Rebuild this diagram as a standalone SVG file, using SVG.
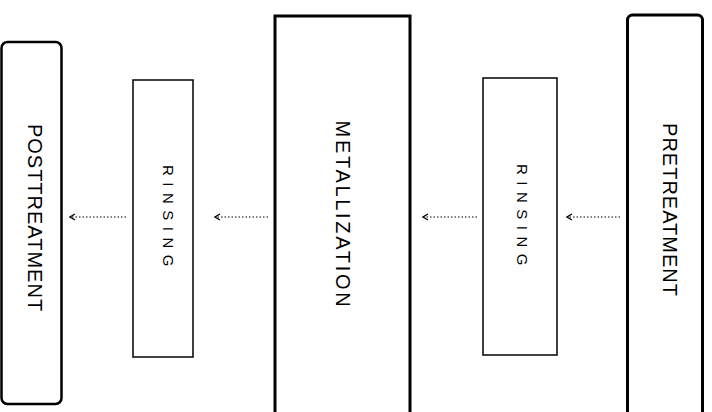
<svg xmlns="http://www.w3.org/2000/svg" width="712" height="412" viewBox="0 0 712 412">
<style>
.box{fill:#fff;stroke:#000}
.lbl{font-family:"Liberation Sans",Arial,sans-serif;fill:#000;text-anchor:middle}
.big{font-size:20px}
.small{font-size:15px;letter-spacing:6.5px}
.conn line{stroke:#000;stroke-width:1;stroke-dasharray:1.5 2}
</style>
<defs>
<marker id="ah" markerWidth="8" markerHeight="8" refX="7" refY="4" orient="auto" markerUnits="userSpaceOnUse">
<path d="M2,1 L7,4 L2,7" fill="none" stroke="#000" stroke-width="1.3"/>
</marker>
</defs>
<rect width="712" height="412" fill="#fff"/>
<g id="posttreatment">
<rect class="box" x="1.5" y="42" width="60" height="362" rx="6" stroke-width="2.5"/>
<text class="lbl big" x="35" y="218" dy="7" transform="rotate(90 35 218)" letter-spacing="1">POSTTREATMENT</text>
</g>
<g id="rinsing1">
<rect class="box" x="133" y="80" width="60" height="277" stroke-width="1.5"/>
<text class="lbl small" x="168" y="219" dy="5" transform="rotate(90 168 219)">RINSING</text>
</g>
<g id="metallization">
<rect class="box" x="275" y="16" width="135" height="400" stroke-width="3"/>
<text class="lbl big" x="343" y="215" dy="7" transform="rotate(90 343 215)" letter-spacing="2.7">METALLIZATION</text>
</g>
<g id="rinsing2">
<rect class="box" x="483" y="78" width="74" height="277" stroke-width="1.5"/>
<text class="lbl small" x="522" y="218" dy="5" transform="rotate(90 522 218)">RINSING</text>
</g>
<g id="pretreatment">
<rect class="box" x="627.5" y="15" width="75" height="410" rx="5" stroke-width="3"/>
<text class="lbl big" x="670" y="210" dy="7" transform="rotate(90 670 210)" letter-spacing="1">PRETREATMENT</text>
</g>
<g id="connectors" class="conn">
<line x1="126" y1="217" x2="70" y2="217" marker-end="url(#ah)"/>
<line x1="268" y1="217" x2="215" y2="217" marker-end="url(#ah)"/>
<line x1="477" y1="217" x2="423" y2="217" marker-end="url(#ah)"/>
<line x1="620" y1="217" x2="567" y2="217" marker-end="url(#ah)"/>
</g>
</svg>
